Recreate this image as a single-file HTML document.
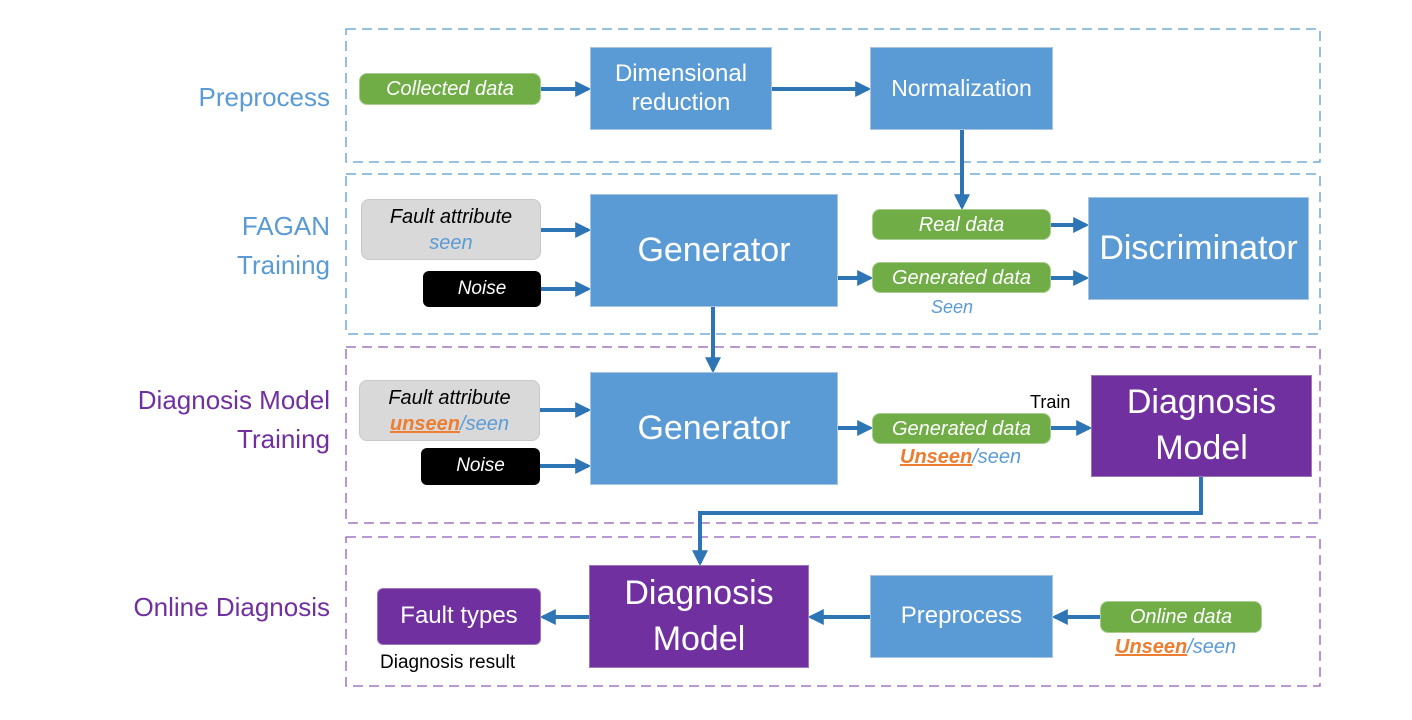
<!DOCTYPE html>
<html><head><meta charset="utf-8"><style>
body{margin:0;width:1412px;height:720px;background:#fff;position:relative;overflow:hidden;font-family:"Liberation Sans",sans-serif}
.a{position:absolute;box-sizing:border-box;display:flex;align-items:center;justify-content:center;text-align:center;color:#fff;line-height:1.2}
.bl{background:#5b9bd5;border:1px solid #a9c4e0}
.gr{background:#70ad47;border-radius:8px;border:1px solid #a9cc90;font-style:italic;font-size:20px}
.pu{background:#7030a0;border:1px solid #9b79b5}
.t{position:absolute;white-space:nowrap}
.lab{position:absolute;text-align:right;right:1082px;font-size:26px;line-height:39px;white-space:nowrap}
.o{color:#ed7d31;font-weight:bold;text-decoration:underline}
.s{color:#5b9bd5}
</style></head><body>
<svg width="1412" height="720" style="position:absolute;left:0;top:0">
<defs><marker id="m" markerWidth="4" markerHeight="4" refX="3.2" refY="2" orient="auto" markerUnits="strokeWidth"><path d="M0,0 L4,2 L0,4 z" fill="#2e75b6"/></marker></defs>
<g fill="none" stroke-width="1.3" stroke-dasharray="10,6">
<rect x="346" y="29" width="974" height="133" stroke="#5b9bd5"/>
<rect x="346" y="174" width="974" height="160" stroke="#5b9bd5"/>
<rect x="346" y="347" width="974" height="176" stroke="#8e5cb8"/>
<rect x="346" y="537" width="974" height="149" stroke="#8e5cb8"/>
</g>
<g stroke="#2e75b6" stroke-width="4" fill="none" marker-end="url(#m)">
<path d="M541 89H588"/><path d="M772 89H868"/><path d="M962 130V207"/>
<path d="M541 230H588"/><path d="M541 289H588"/><path d="M838 278H870"/>
<path d="M1051 225H1086"/><path d="M1051 278H1086"/><path d="M713 307V370"/>
<path d="M540 410H588"/><path d="M540 466H588"/><path d="M838 428H870"/><path d="M1051 428H1089"/>
<path d="M1201 477V513H700V563"/>
<path d="M870 617H811"/><path d="M1100 617H1055"/><path d="M589 617H543"/>
</g>
</svg>
<div class="lab" style="top:78px;color:#5b9bd5">Preprocess</div>
<div class="lab" style="top:207px;color:#5b9bd5">FAGAN<br>Training</div>
<div class="lab" style="top:381px;color:#7030a0">Diagnosis Model<br>Training</div>
<div class="lab" style="top:588px;color:#7030a0">Online Diagnosis</div>

<div class="a gr" style="left:359px;top:73px;width:182px;height:32px">Collected data</div>
<div class="a bl" style="left:590px;top:47px;width:182px;height:83px;font-size:24px"><div>Dimensional<br>reduction</div></div>
<div class="a bl" style="left:870px;top:47px;width:183px;height:83px;font-size:23px">Normalization</div>
<div class="a" style="left:361px;top:199px;width:180px;height:61px;background:#d9d9d9;border:1px solid #c8c8c8;border-radius:8px;color:#000;font-style:italic;font-size:20px;line-height:1.3"><div>Fault attribute<br><span class="s">seen</span></div></div>
<div class="a" style="left:423px;top:271px;width:118px;height:36px;background:#000;border-radius:6px;font-style:italic;font-size:19px">Noise</div>
<div class="a bl" style="left:590px;top:194px;width:248px;height:113px;font-size:34px">Generator</div>
<div class="a gr" style="left:872px;top:209px;width:179px;height:31px">Real data</div>
<div class="a gr" style="left:872px;top:262px;width:179px;height:31px">Generated data</div>
<div class="t s" style="left:931px;top:297px;font-style:italic;font-size:18px">Seen</div>
<div class="a bl" style="left:1088px;top:197px;width:221px;height:103px;font-size:34px">Discriminator</div>

<div class="a" style="left:359px;top:380px;width:181px;height:61px;background:#d9d9d9;border:1px solid #c8c8c8;border-radius:8px;color:#000;font-style:italic;font-size:20px;line-height:1.3"><div>Fault attribute<br><span class="o">unseen</span><span class="s">/seen</span></div></div>
<div class="a" style="left:421px;top:448px;width:119px;height:37px;background:#000;border-radius:6px;font-style:italic;font-size:19px">Noise</div>
<div class="a bl" style="left:590px;top:372px;width:248px;height:113px;font-size:34px">Generator</div>
<div class="a gr" style="left:872px;top:413px;width:179px;height:31px">Generated data</div>
<div class="t" style="left:900px;top:446px;font-style:italic;font-size:20px"><span class="o">Unseen</span><span class="s">/seen</span></div>
<div class="t" style="left:1030px;top:392px;font-size:18px">Train</div>
<div class="a pu" style="left:1091px;top:375px;width:221px;height:102px;font-size:34px;line-height:1.35"><div>Diagnosis<br>Model</div></div>

<div class="a pu" style="left:377px;top:588px;width:164px;height:57px;border-radius:6px;font-size:24px">Fault types</div>
<div class="t" style="left:380px;top:652px;font-size:19px">Diagnosis result</div>
<div class="a pu" style="left:589px;top:565px;width:220px;height:103px;font-size:34px;line-height:1.35"><div>Diagnosis<br>Model</div></div>
<div class="a bl" style="left:870px;top:575px;width:183px;height:83px;font-size:24px">Preprocess</div>
<div class="a gr" style="left:1100px;top:601px;width:162px;height:32px">Online data</div>
<div class="t" style="left:1115px;top:636px;font-style:italic;font-size:20px"><span class="o">Unseen</span><span class="s">/seen</span></div>
</body></html>
